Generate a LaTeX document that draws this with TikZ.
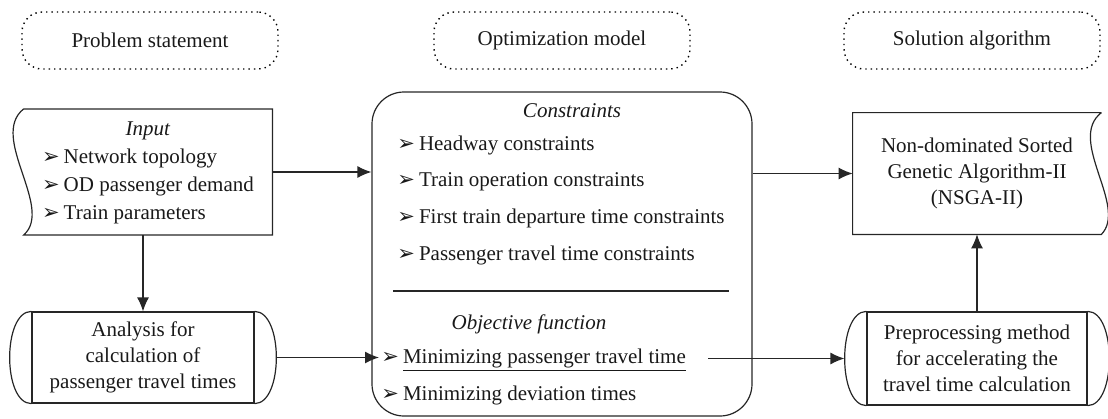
\documentclass[tikz,border=0pt]{standalone}
\usepackage{fontspec}
\setmainfont{Liberation Serif}
\newfontfamily\symfont{DejaVu Sans}
\usetikzlibrary{arrows.meta}
\newcommand\bul{{\symfont\fontsize{10.5}{10}\selectfont\symbol{"27A2}}\hspace{2pt}}
\tikzset{
  every node/.style={font=\fontsize{10.5}{13}\selectfont, text=black!90},
  header/.style={draw, dotted, line width=0.7pt, rounded corners=10pt,
    minimum width=128pt, minimum height=28.5pt},
  frame/.style={line width=0.6pt, draw=black!85},
  item/.style={anchor=west, inner sep=1pt},
  lst/.style={font=\fontsize{10.5}{14}\selectfont}
}
\begin{document}
\begin{tikzpicture}[x=0.5pt, y=-0.5pt]
  \useasboundingbox (0,0) rectangle (1108,418);
  % headers
  \node[header] (hprob) at (150,40.5) {Problem statement};
  \node[header] (hopt) at (562,40.5) {Optimization model};
  \node[header] (hsol) at (972,40.5) {Solution algorithm};
  % input
  \node[lst, minimum width=124pt, minimum height=60pt] (input) at (148,172)
    {\begin{tabular}{@{}l@{}}\multicolumn{1}{@{}c@{}}{\textit{Input}}\\
     \bul Network topology\\ \bul OD passenger demand\\ \bul Train parameters\end{tabular}};
  \draw[frame] (input.north west) -- (input.north east) -- (input.south east)
    -- (input.south west) .. controls +(31,-27) and +(-35,28) .. (input.north west);
  % analysis
  \node[frame, draw, align=center, minimum width=111pt, minimum height=45.5pt] (ana) at (143,357.5)
    {Analysis for\\ calculation of\\ passenger travel times};
  \draw[frame] (ana.north west) .. controls +(-29,0) and +(-29,0) .. (ana.south west);
  \draw[frame] (ana.north east) .. controls +(29,0) and +(29,0) .. (ana.south east);
  % model
  \node[frame, draw, rounded corners=16pt, minimum width=190pt, minimum height=162pt] (model) at (562,254) {};
  \node (cons) at (572,111) {\textit{Constraints}};
  \node[item] (c1) at (395,145) {\bul Headway constraints};
  \node[item] (c2) at (395,182) {\bul Train operation constraints};
  \node[item] (c3) at (395,218) {\bul First train departure time constraints};
  \node[item] (c4) at (395,255) {\bul Passenger travel time constraints};
  \draw[frame] (393,291) -- (729,291);
  \node (obj) at (529,324) {\textit{Objective function}};
  \node[item] (o1) at (379,360) {\bul \underline{Minimizing passenger travel time}};
  \node[item] (o2) at (379,395) {\bul Minimizing deviation times};
  % nsga
  \node[align=center, minimum width=124pt, minimum height=60.5pt] (nsga) at (977,173.5)
    {Non-dominated Sorted\\ Genetic Algorithm-II\\ (NSGA-II)};
  \draw[frame] (nsga.north east) -- (nsga.north west) -- (nsga.south west)
    -- (nsga.south east) .. controls +(27,-28) and +(-35,27) .. (nsga.north east);
  % preprocessing
  \node[frame, draw, align=center, minimum width=110pt, minimum height=46.5pt] (pre) at (977,358.5)
    {Preprocessing method\\ for accelerating the\\ travel time calculation};
  \draw[frame] (pre.north west) .. controls +(-29,0) and +(-29,0) .. (pre.south west);
  \draw[frame] (pre.north east) .. controls +(29,0) and +(29,0) .. (pre.south east);
  % connectors
  \coordinate (anaR) at ([xshift=11pt]ana.east);
  \coordinate (objR) at ([xshift=10pt]o1.east);
  \coordinate (preL) at ([xshift=-11pt]pre.west);
  \begin{scope}[frame, -{Latex[length=7pt,width=6pt]}]
    \draw (input.east) -- (input.east -| model.west);
    \draw (input.south -| ana.north) -- (ana.north);
    \draw (anaR) -- (anaR -| o1.west);
    \draw (model.east |- nsga.west) -- (nsga.west);
    \draw (objR |- preL) -- (preL);
    \draw (pre.north) -- (pre.north |- nsga.south);
  \end{scope}
\end{tikzpicture}
\end{document}
